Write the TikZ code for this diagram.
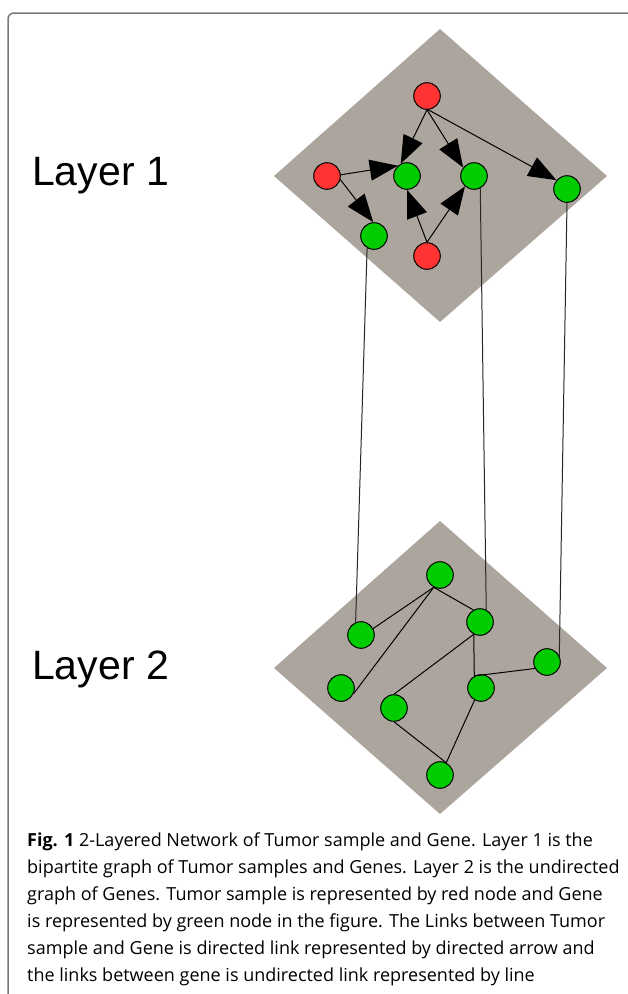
\documentclass[tikz,border=0pt]{standalone}
\usepackage{fontspec}
\setmainfont{Liberation Sans}
\newfontfamily\capfont{Open Sans}
\usetikzlibrary{arrows.meta}
\definecolor{plane}{RGB}{172,165,158}
\definecolor{tumor}{RGB}{255,51,51}
\definecolor{gene}{RGB}{0,204,0}
\definecolor{framegray}{RGB}{120,120,120}
\tikzset{
  tnode/.style={circle,draw=black,line width=1pt,fill=tumor,minimum size=26.6pt,inner sep=0pt},
  gnode/.style={circle,draw=black,line width=1pt,fill=gene,minimum size=26.6pt,inner sep=0pt},
  dlink/.style={line width=1pt,-{Triangle[length=28pt,width=21pt]}},
  ulink/.style={line width=1pt},
  xlink/.style={line width=1pt,draw=black!85},
  layerlabel/.style={font=\fontsize{41}{41}\selectfont,inner sep=0pt,anchor=base west},
}
\begin{document}
\begin{tikzpicture}[x=1pt,y=-1pt]
\useasboundingbox (0,0) rectangle (627,994);
% frame
\draw[framegray,line width=1.5pt,rounded corners=6pt] (8,1000) -- (8,13) -- (640,13);
% planes
\fill[plane] (440,29) -- (607,176) -- (440,322) -- (274,176) -- cycle;
\fill[plane] (440,521) -- (607,668) -- (440,814) -- (274,668) -- cycle;
% labels
\node[layerlabel] (lab1) at (32,185) {Layer 1};
\node[layerlabel] (lab2) at (32,679) {Layer 2};
% layer 1 nodes
\node[tnode] (R1) at (427,96) {};
\node[tnode] (R2) at (327,176) {};
\node[gnode] (G1) at (407,176) {};
\node[gnode] (G2) at (474,176) {};
\node[gnode] (G3) at (567,189) {};
\node[gnode] (G4) at (374,236) {};
\node[tnode] (R3) at (427,256) {};
% layer 2 nodes
\node[gnode] (T) at (440,575) {};
\node[gnode] (A) at (361,635) {};
\node[gnode] (B) at (480,622) {};
\node[gnode] (C) at (547,662) {};
\node[gnode] (D) at (341,688) {};
\node[gnode] (E) at (481,688) {};
\node[gnode] (F) at (394,708) {};
\node[gnode] (Bt) at (440,775) {};
% layer 1 directed links
\draw[dlink] (R1.270) -- (G1.117);
\draw[dlink] (R1.270) -- (G2.142);
\draw[dlink] (R1.275) -- (G3.140);
\draw[dlink] (R2.5) -- (G1.132);
\draw[dlink] (R2.345) -- (G4.93);
\draw[dlink] (R3.90) -- (G1.270);
\draw[dlink] (R3.90) -- (G2.229);
% inter-layer links
\draw[xlink] (G4.240) -- (A.113);
\draw[xlink] (G2.297) -- (B.63);
\draw[xlink] (G3.270) -- (C.27);
% layer 2 undirected links
\draw[ulink] (T.243) -- (A.28);
\draw[ulink] (T.243) -- (D.336);
\draw[ulink] (T.243) -- (B.119);
\draw[ulink] (B.243) -- (F.90);
\draw[ulink] (B.243) -- (E.119);
\draw[ulink] (E.119) -- (C.208);
\draw[ulink] (F.270) -- (Bt.63);
\draw[ulink] (E.242) -- (Bt.63);
% caption
\node[anchor=north west,inner sep=0pt,align=left,font=\capfont\fontsize{18}{27}\selectfont] (cap) at (27,833)
{\textbf{Fig. 1} 2-Layered Network of Tumor sample and Gene. Layer 1 is the\\
bipartite graph of Tumor samples and Genes. Layer 2 is the undirected\\
graph of Genes. Tumor sample is represented by red node and Gene\\
is represented by green node in the figure. The Links between Tumor\\
sample and Gene is directed link represented by directed arrow and\\
the links between gene is undirected link represented by line};
\end{tikzpicture}
\end{document}
